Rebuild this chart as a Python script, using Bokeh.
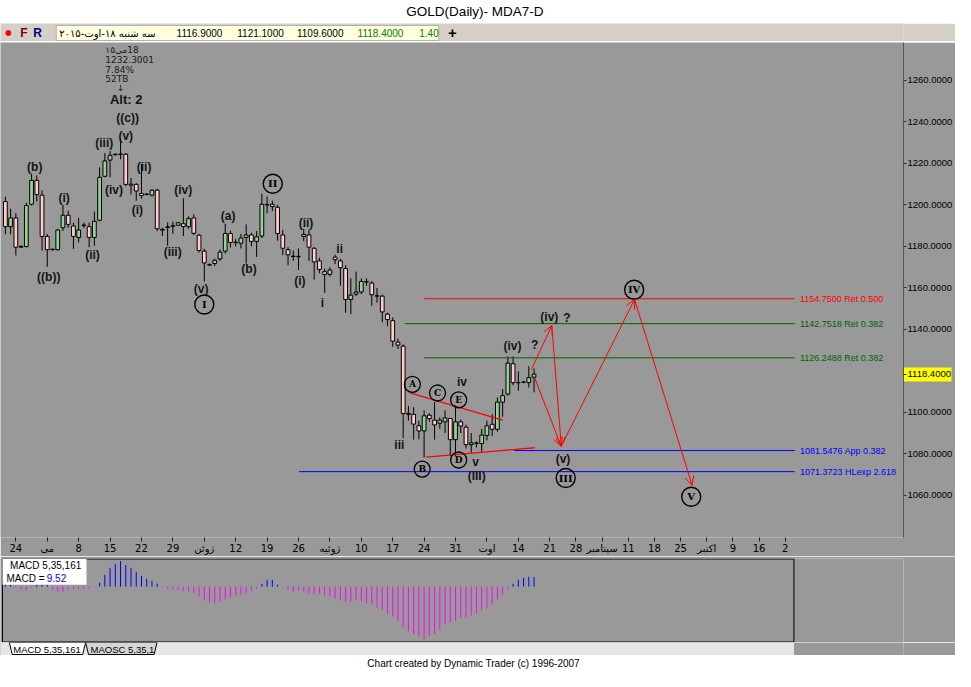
from bokeh.plotting import figure
from bokeh.models import (Range1d, FixedTicker, PrintfTickFormatter, ColumnDataSource,
                          Arrow, OpenHead, LinearAxis)
from bokeh.layouts import column
from bokeh.embed import file_html
from bokeh.resources import INLINE
from bokeh.core.properties import value

# ---------------------------------------------------------------- data
opens = [1201.6, 1189.5, 1193.7, 1179.6, 1179.9, 1200.3, 1211.8, 1204.7, 1184.8, 1178.4,
         1178.4, 1189.0, 1195.0, 1189.8, 1184.3, 1190.0, 1189.5, 1184.3, 1192.6, 1213.8,
         1221.6, 1224.2, 1224.3, 1224.4, 1210.0, 1209.9, 1205.5, 1205.0, 1204.7, 1207.1,
         1188.2, 1189.2, 1189.7, 1190.2, 1190.9, 1189.5, 1193.7, 1185.4, 1177.7, 1171.2,
         1171.7, 1174.0, 1177.7, 1186.2, 1181.8, 1181.5, 1184.3, 1185.5, 1182.4, 1185.0,
         1200.0, 1200.3, 1198.9, 1185.5, 1178.4, 1175.3, 1175.0, 1184.8, 1185.5, 1179.1,
         1173.0, 1167.8, 1166.5, 1174.8, 1173.0, 1169.3, 1154.4, 1157.0, 1158.0, 1162.8,
         1162.3, 1156.0, 1156.0, 1147.3, 1144.2, 1133.8, 1131.9, 1099.5, 1099.0, 1093.5,
         1091.0, 1098.6, 1096.2, 1094.7, 1095.4, 1097.0, 1086.8, 1095.4, 1092.8, 1084.4,
         1085.0, 1084.9, 1088.8, 1094.2, 1091.8, 1104.9, 1108.8, 1123.4, 1114.3, 1114.5,
         1114.3, 1116.9]
highs = [1203.9, 1198.1, 1196.1, 1180.5, 1201.0, 1215.0, 1214.2, 1207.0, 1186.0, 1179.0,
         1188.3, 1200.0, 1197.2, 1191.4, 1193.7, 1191.5, 1191.4, 1196.8, 1218.1, 1225.0,
         1225.9, 1224.8, 1232.3, 1225.0, 1213.0, 1210.5, 1219.7, 1205.6, 1207.5, 1207.8,
         1189.0, 1191.5, 1192.0, 1191.8, 1203.2, 1194.5, 1195.5, 1186.0, 1178.8, 1171.8,
         1174.0, 1178.5, 1190.9, 1187.5, 1183.5, 1186.0, 1190.6, 1186.5, 1187.4, 1205.5,
         1204.0, 1202.0, 1200.0, 1187.9, 1179.6, 1178.0, 1179.0, 1188.3, 1188.0, 1179.6,
         1174.5, 1169.3, 1170.0, 1176.0, 1174.0, 1170.8, 1164.6, 1167.8, 1164.6, 1164.6,
         1163.1, 1159.9, 1156.7, 1148.0, 1145.8, 1135.5, 1132.7, 1103.0, 1102.5, 1096.0,
         1100.9, 1099.5, 1104.9, 1097.5, 1101.0, 1097.3, 1103.3, 1096.5, 1094.0, 1090.0,
         1086.0, 1092.0, 1096.0, 1099.0, 1107.2, 1111.2, 1126.9, 1126.9, 1119.8, 1115.0,
         1122.2, 1121.1]
lows = [1185.8, 1185.8, 1175.6, 1179.3, 1179.5, 1199.7, 1201.6, 1178.0, 1170.1, 1178.0,
        1178.0, 1187.4, 1189.0, 1178.8, 1181.9, 1188.8, 1179.6, 1180.3, 1192.1, 1213.3,
        1213.3, 1223.8, 1222.0, 1209.0, 1205.0, 1202.0, 1203.0, 1204.6, 1204.0, 1187.3,
        1185.0, 1180.3, 1186.0, 1190.0, 1185.0, 1188.5, 1185.5, 1177.0, 1163.1, 1170.6,
        1170.5, 1173.0, 1176.5, 1179.5, 1180.0, 1179.0, 1171.7, 1180.0, 1174.9, 1184.0,
        1196.0, 1197.0, 1182.7, 1175.8, 1170.9, 1173.0, 1168.6, 1182.5, 1173.0, 1164.0,
        1167.0, 1157.5, 1165.5, 1171.5, 1161.0, 1148.0, 1147.3, 1156.0, 1157.0, 1161.0,
        1151.3, 1152.8, 1143.4, 1141.5, 1131.6, 1130.5, 1087.6, 1096.0, 1086.8, 1087.0,
        1078.2, 1095.5, 1086.8, 1092.0, 1090.0, 1079.0, 1078.9, 1090.0, 1082.5, 1080.5,
        1083.0, 1081.0, 1086.5, 1088.5, 1090.7, 1097.8, 1108.0, 1113.0, 1110.4, 1114.0,
        1111.9, 1109.6]
closes = [1189.5, 1193.7, 1179.6, 1180.0, 1199.7, 1211.8, 1205.0, 1184.8, 1178.4, 1178.6,
          1187.9, 1195.0, 1190.6, 1184.8, 1187.9, 1190.3, 1184.3, 1192.1, 1213.3, 1221.2,
          1223.9, 1224.4, 1224.5, 1209.9, 1209.5, 1206.7, 1204.5, 1205.2, 1207.1, 1188.5,
          1187.8, 1189.4, 1189.9, 1191.4, 1189.6, 1193.4, 1186.3, 1178.0, 1172.0, 1171.0,
          1173.3, 1177.2, 1186.2, 1181.9, 1182.0, 1184.0, 1185.5, 1182.4, 1184.6, 1200.3,
          1200.2, 1199.2, 1186.2, 1179.1, 1175.9, 1175.1, 1175.2, 1185.8, 1179.6, 1172.5,
          1168.9, 1166.5, 1168.6, 1173.6, 1169.7, 1154.4, 1156.5, 1158.0, 1163.1, 1163.0,
          1156.7, 1156.2, 1148.4, 1144.7, 1134.3, 1132.4, 1099.4, 1099.0, 1094.3, 1091.0,
          1098.3, 1097.0, 1093.9, 1096.2, 1097.3, 1086.8, 1095.4, 1093.4, 1084.4, 1085.3,
          1085.2, 1089.0, 1093.5, 1091.8, 1104.9, 1108.0, 1123.7, 1114.3, 1114.3, 1114.6,
          1116.7, 1118.4]

macd_hist = [3, 2, -1, -3, -4, -1, 3, 4, 2, -3, -5, -5, -3, -2, -2, -2, -2, -1,
             4, 12, 19, 23, 26, 22, 19, 15, 11, 8, 6, 3,
             -1, -2, -3, -3, -4, -5, -7, -10, -14, -16, -17, -15, -13, -11, -9, -8, -6, -4,
             -2, 3, 7, 7, 2,
             -1, -3, -5, -4, -5, -7, -8, -7, -9, -10, -12, -14, -16, -15, -14, -15, -17, -18,
             -21, -24, -27, -30, -35, -41, -45, -48, -50, -53, -50, -48, -44, -38, -36, -34,
             -32, -31, -29, -27, -24, -22, -18, -13, -8,
             -3, 3, 7, 9, 10, 9.52]

# bar-index of each Friday tick (history has 6 bars/week, projection 5 bars/week)
x_tick_pos = [2, 8, 14, 20, 26, 32, 38, 44, 50, 56, 62, 68, 74, 80, 86, 92, 98,
              104, 109, 114, 119, 124, 129, 134, 139, 144, 149]
x_tick_labels = ["24", "می", "8", "15", "22", "29", "ژوئن", "12", "19", "26", "ژوئیه",
                 "10", "17", "24", "31", "اوت", "14", "21", "28", "سپتامبر", "11", "18",
                 "25", "اکتبر", "9", "16", "2"]
# price-axis ticks (1120 sits under the last-price marker)
y_ticks = [1060, 1080, 1100, 1140, 1160, 1180, 1200, 1220, 1240, 1260]

# horizontal levels
lvl_val = [1154.75, 1142.7518, 1126.2488, 1081.5476, 1071.3723]
lvl_txt = ["1154.7500 Ret 0.500", "1142.7518 Ret 0.382", "1126.2488 Ret 0.382",
           "1081.5476 App 0.382", "1071.3723 HLexp 2.618"]
lvl_start = [80.0, 76.3, 80.0, 97.2, 56.1]
lvl_end = 150.8
lvl_col = ["#ff0000", "#006400", "#006400", "#0000ff", "#0000ff"]

# projected path (arrows)
proj_x0 = [100.5, 104.4, 101.1, 106.2, 120.2]
proj_y0 = [1120.6, 1141.8, 1116.7, 1083.6, 1154.4]
proj_x1 = [104.4, 106.2, 106.2, 120.2, 131.2]
proj_y1 = [1141.8, 1083.6, 1083.6, 1154.4, 1064.8]

# triangle boundary lines
tri_x0 = [77.3, 80.4]
tri_y0 = [1109.3, 1078.4]
tri_x1 = [95.0, 101.1]
tri_y1 = [1096.2, 1082.9]

# wave labels
wl_text = ["((c))", "(v)", "(iii)", "(iv)", "(ii)", "(i)", "(b)", "(i)", "(ii)", "((b))",
           "(iv)", "(iii)", "(a)", "(b)", "(v)", "(ii)", "(i)", "ii", "i", "iii", "iv",
           "v", "(III)", "(iv)", "?", "(iv)", "?", "(v)"]
wl_x = [23.36, 22.99, 18.88, 20.75, 26.49, 25.23, 5.61, 11.21, 16.64, 8.28,
        33.96, 31.96, 42.56, 46.54, 37.38, 57.44, 56.26, 63.87, 60.56, 75.27, 87.23,
        89.85, 90.04, 96.88, 101.12, 103.93, 107.29, 106.54]
wl_y = [1241.7, 1233.3, 1229.9, 1207.1, 1218.1, 1197.6, 1218.5, 1203.2, 1175.6, 1165.0,
        1207.1, 1177.2, 1194.8, 1169.0, 1159.4, 1191.5, 1163.5, 1178.8, 1152.8, 1084.0, 1114.6,
        1075.8, 1069.5, 1131.9, 1132.4, 1145.8, 1145.4, 1077.7]

# circled degree labels
cr_text = ["I", "II", "III", "IV", "V"]
cr_x = [38.0, 51.08, 107.05, 120.13, 131.03]
cr_y = [1152.0, 1210.2, 1068.3, 1159.1, 1059.3]
cl_text = ["A", "B", "C", "D", "E"]
cl_x = [77.76, 79.63, 82.56, 86.6, 86.6]
cl_y = [1113.5, 1072.6, 1109.3, 1077.0, 1106.0]

# note at the high
note_text = ["\u200e۱۵\u200eمی\u200e18", "1232.3001", "7.84%", "52TB"]
note_x = [19.1, 19.1, 19.1, 19.1]
note_y = [1274.7, 1270.0, 1265.2, 1260.5]

last_price = 1118.4
info_vals = ["1116.9000", "1121.1000", "1109.6000", "1118.4000", "1.40"]

# ---------------------------------------------------------------- layout constants
W = 955
RB = 50                   # right border (price axis) shared by every figure
FW = W - RB               # frame width
BG = "#999999"
BAR_REF = 5.35            # reference px per bar
X0 = -5 / BAR_REF
X1 = X0 + 923 / BAR_REF
YTOP = 1200 + (210 - 44) / 2.12
YBOT = 1200 - (550 - 210) / 2.12
MX0 = X0 + 2 / BAR_REF
MX1 = X0 + 811 / BAR_REF
SANS = "Liberation Sans"


def base(h, xr, yr, bg, top=0):
    f = figure(width=W, height=h, x_range=xr, y_range=yr, output_backend="svg",
               toolbar_location=None, x_axis_location=None, y_axis_location=None,
               min_border_left=0, min_border_right=RB, min_border_top=top, min_border_bottom=0)
    f.background_fill_color = bg
    f.border_fill_color = bg
    f.outline_line_color = None
    f.xgrid.visible = False
    f.ygrid.visible = False
    return f


def deco(h, ytop, ybot, bg):
    return base(h, Range1d(0, 923), Range1d(ybot, ytop), bg)


# ---------------------------------------------------------------- title bar
ft = deco(22, 0, 23, "#ffffff")
ft.text(x=[485], y=[12], text=["GOLD(Daily)- MDA7-D"], text_align="center",
        text_baseline="middle", text_font=value(SANS), text_font_size="13.5px", text_color="#000000")
sep1 = deco(1, 0, 1, "#202020")

# ---------------------------------------------------------------- info bar
fi = deco(18, 24, 42, "#d4d0c8")
fi.scatter(x=[8], y=[33.5], size=5, marker="circle", fill_color="#ff0000", line_color="#ff0000")
fi.text(x=[24, 38], y=[33.5, 33.5], text=["F", "R"], text_color=["#800000", "#000080"],
        text_align="center", text_baseline="middle", text_font=value(SANS),
        text_font_style="bold", text_font_size="12px")
fi.quad(left=[57], right=[448], top=[26], bottom=[41], fill_color="#ffffe0", line_color="#b0b0b0")
fi.text(x=[60], y=[33.5], text=["سه شنبه ۱۸-اوت-۲۰۱۵"], text_baseline="middle",
        text_font=value("DejaVu Sans"), text_font_size="10px", text_color="#000000")
fi.text(x=[180, 242, 303, 365, 428], y=[33.5] * 5, text=info_vals,
        text_color=["#000000", "#000000", "#000000", "#008000", "#008000"],
        text_baseline="middle", text_font=value(SANS), text_font_size="10px")
fi.text(x=[462], y=[33.5], text=["+"], text_align="center", text_baseline="middle",
        text_font=value(SANS), text_font_style="bold", text_font_size="15px", text_color="#000000")
sep2 = deco(1, 0, 1, "#707070")

# ---------------------------------------------------------------- price chart
p = figure(width=W, height=514, x_range=Range1d(X0, X1), y_range=Range1d(YBOT, YTOP),
           y_axis_location="right", output_backend="svg", toolbar_location=None,
           min_border_left=0, min_border_right=RB, min_border_top=0, min_border_bottom=19)
p.background_fill_color = BG
p.border_fill_color = BG
p.outline_line_color = None
p.xgrid.visible = False
p.ygrid.visible = False

idx = list(range(len(opens)))
src = ColumnDataSource(dict(
    x=idx, hi=highs, lo=lows,
    top=[max(o, c) for o, c in zip(opens, closes)],
    bot=[min(o, c) for o, c in zip(opens, closes)],
    col=["#93d293" if c >= o else "#ffcccc" for o, c in zip(opens, closes)]))
p.segment(x0="x", y0="lo", x1="x", y1="hi", line_color="#000000", line_width=1, source=src)
p.vbar(x="x", width=0.72, top="top", bottom="bot", fill_color="col", line_color="#000000",
       line_width=1, source=src)

# level lines + labels
lsrc = ColumnDataSource(dict(x0=lvl_start, x1=[lvl_end] * len(lvl_val), y=lvl_val,
                             t=lvl_txt, c=lvl_col, tx=[lvl_end + 1.0] * len(lvl_val)))
p.segment(x0="x0", y0="y", x1="x1", y1="y", line_color="c", line_width=1, source=lsrc)
p.text(x="tx", y="y", text="t", text_color="c", text_baseline="middle",
       text_font=value(SANS), text_font_size="9px", source=lsrc)

# triangle lines
p.segment(x0=tri_x0, y0=tri_y0, x1=tri_x1, y1=tri_y1, line_color="#ff0000", line_width=1.3)

# projection arrows
asrc = ColumnDataSource(dict(x0=proj_x0, y0=proj_y0, x1=proj_x1, y1=proj_y1))
p.add_layout(Arrow(end=OpenHead(size=9, line_color="#ff0000", line_width=1),
                   x_start="x0", y_start="y0", x_end="x1", y_end="y1",
                   line_color="#ff0000", line_width=1, source=asrc))

# wave labels
p.text(x=wl_x, y=wl_y, text=wl_text, text_align="center", text_baseline="middle",
       text_font=value(SANS), text_font_style="bold", text_font_size="12px", text_color="#141414")
# circled labels
p.scatter(x=cr_x, y=cr_y, marker="circle", size=19, fill_color=None, line_color="#000000",
          line_width=1.4)
p.text(x=cr_x, y=cr_y, text=cr_text, text_align="center", text_baseline="middle",
       text_font=value("DejaVu Serif"), text_font_style="bold", text_font_size="10px",
       text_color="#000000")
p.scatter(x=cl_x, y=cl_y, marker="circle", size=16, fill_color=None, line_color="#000000",
          line_width=1.3)
p.text(x=cl_x, y=cl_y, text=cl_text, text_align="center", text_baseline="middle",
       text_font=value("DejaVu Serif"), text_font_style="bold", text_font_size="9px",
       text_color="#000000")
# note at the high
p.text(x=note_x, y=note_y, text=note_text, text_baseline="middle",
       text_font=value("DejaVu Sans"), text_font_size="9px", text_color="#1a1a1a")
p.text(x=[22.06], y=[1256.6], text=["↓"], text_align="center", text_baseline="middle",
       text_font=value("DejaVu Sans"), text_font_size="9px", text_color="#1a1a1a")
p.text(x=[23.08], y=[1250.6], text=["Alt: 2"], text_align="center", text_baseline="middle",
       text_font=value(SANS), text_font_style="bold", text_font_size="13px", text_color="#141414")

# axes
p.xaxis.ticker = FixedTicker(ticks=x_tick_pos)
p.xaxis.major_label_overrides = {t: s for t, s in zip(x_tick_pos, x_tick_labels)}
p.xaxis.major_label_text_align = "left"
p.xaxis.major_label_text_font = "DejaVu Sans"
p.xaxis.major_label_text_font_size = "10px"
p.xaxis.major_label_text_color = "#000000"
p.xaxis.major_label_standoff = 1
p.xaxis.minor_tick_line_color = None
p.xaxis.major_tick_in = 0
p.xaxis.major_tick_out = 4
p.xaxis.major_tick_line_color = "#202020"
p.xaxis.axis_line_color = None

# main price axis (the last price gets its own tick label)
main_y = p.yaxis[0]
main_y.ticker = FixedTicker(ticks=y_ticks + [last_price])
main_y.formatter = PrintfTickFormatter(format="%.4f")
main_y.major_label_text_font = SANS
main_y.major_label_text_font_size = "9.5px"
main_y.major_label_text_color = "#000000"
main_y.major_label_standoff = 1
main_y.minor_tick_line_color = None
main_y.major_tick_in = 0
main_y.major_tick_out = 3
main_y.major_tick_line_color = "#303030"
main_y.axis_line_color = "#555555"

# last-price highlight: a zero-width axis whose single (wide, yellow) tick lies under the label
mark_y = LinearAxis(ticker=FixedTicker(ticks=[last_price]), axis_line_color=None,
                    major_tick_in=-48, major_tick_out=0, major_tick_line_color="#ffff00",
                    major_tick_line_width=14, minor_tick_line_color=None,
                    major_label_text_font_size="0px", major_label_text_color=None,
                    major_label_standoff=0)
p.add_layout(mark_y, "right")
p.right = [mark_y] + [r for r in p.right if r is not mark_y]

# ---------------------------------------------------------------- MACD panel
m = base(86, Range1d(X0, X1), Range1d(-56.5, 28.5), BG, top=2)
msrc = ColumnDataSource(dict(x=list(range(len(macd_hist))), y0=[0] * len(macd_hist), y1=macd_hist,
                             c=["#0000ff" if v > 0 else "#ff00ff" for v in macd_hist]))
m.segment(x0="x", y0="y0", x1="x", y1="y1", line_color="c", line_width=1, source=msrc)
m.quad(left=[MX0], right=[MX1], top=[28], bottom=[-56], fill_color=None,
       line_color="#000000", line_width=1)
m.quad(left=[MX0], right=[15.5], top=[28], bottom=[2], fill_color="#ffffff", line_color=None)
m.text(x=[0.9], y=[21], text=["MACD 5,35,161"], text_baseline="middle",
       text_font=value(SANS), text_font_size="10px", text_color="#000000")
m.text(x=[0.2, 7.9], y=[8.5, 8.5], text=["MACD =", "9.52"], text_color=["#000000", "#0000ff"],
       text_baseline="middle", text_font=value(SANS), text_font_size="10px")

# ---------------------------------------------------------------- tabs
fb = deco(13, 657, 670, BG)
fb.quad(left=[0], right=[811], top=[657], bottom=[670], fill_color="#e6e6e6", line_color=None)
fb.patch(x=[87, 90, 157, 160], y=[657, 669, 669, 657], fill_color="#d6d6d6", line_color="#000000")
fb.patch(x=[9, 12, 84, 87], y=[657, 669, 669, 657], fill_color="#ffffff", line_color="#000000")
fb.text(x=[13, 92], y=[663.5, 663.5], text=["MACD 5,35,161", "MAOSC 5,35,1"], text_baseline="middle",
        text_font=value(SANS), text_font_size="9.5px", text_color="#000000")

# ---------------------------------------------------------------- footer
ff = deco(16, 670, 687, "#ffffff")
ff.text(x=[485], y=[678.5], text=["Chart created by Dynamic Trader  (c) 1996-2007"],
        text_align="center", text_baseline="middle", text_font=value(SANS),
        text_font_size="10px", text_color="#000000")

layout = column(ft, sep1, fi, sep2, p, m, fb, ff, spacing=0)
open("out.html", "w").write(file_html(layout, INLINE, title="GOLD(Daily)- MDA7-D"))
